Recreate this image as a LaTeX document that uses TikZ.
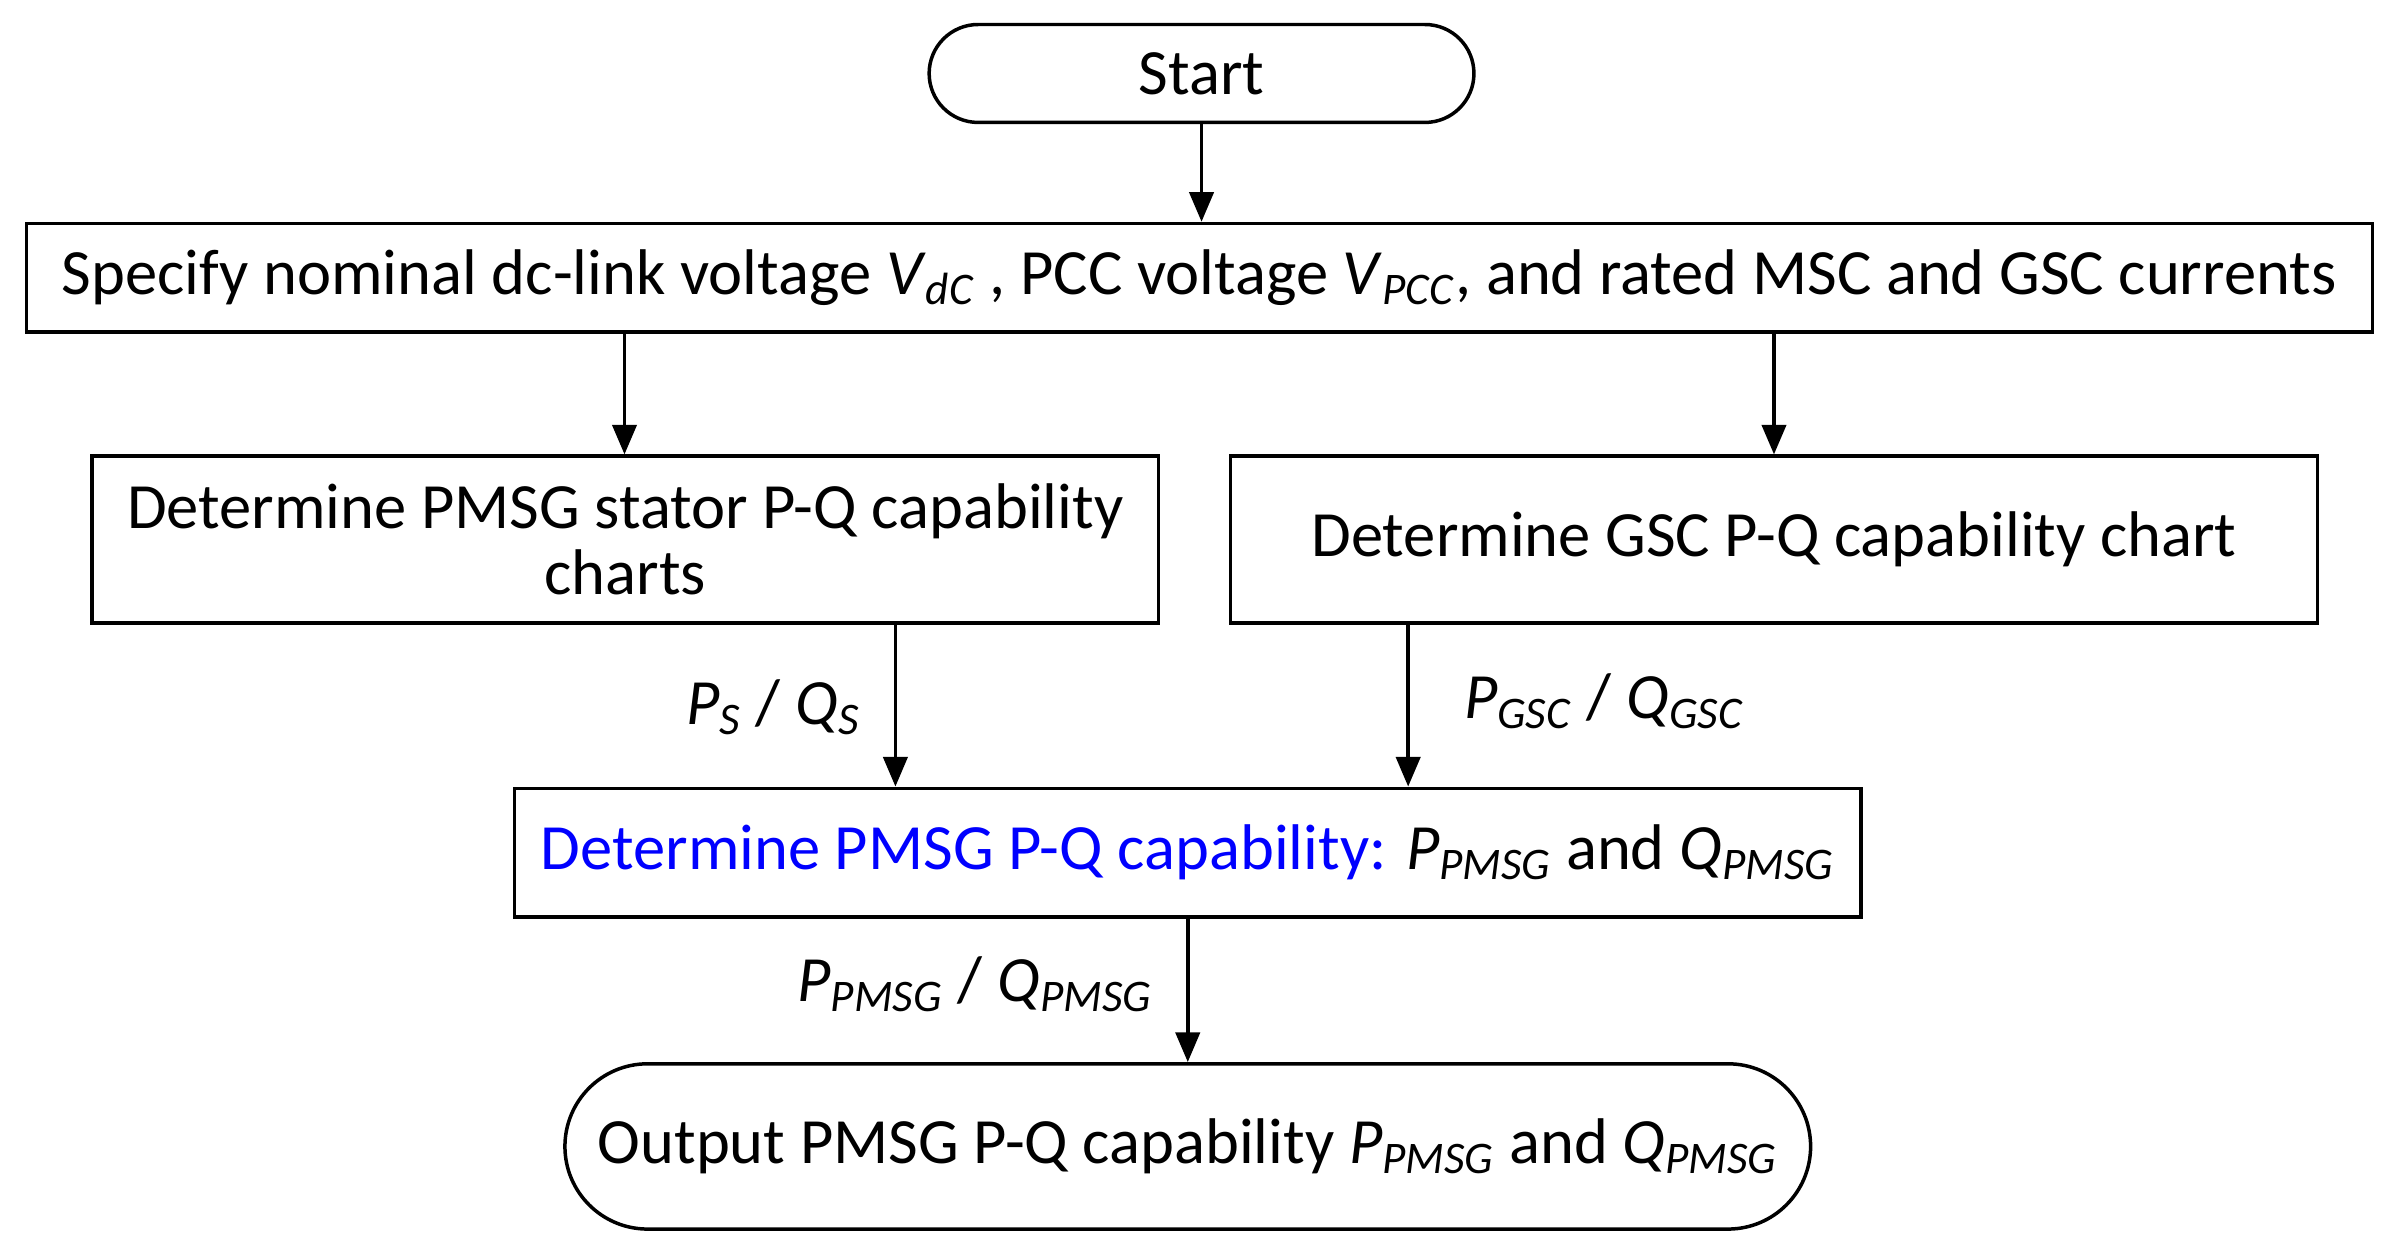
\documentclass[tikz,border=0pt]{standalone}
\usepackage{fontspec}
\setmainfont{Carlito}
\usetikzlibrary{arrows.meta}
\newcommand{\vsub}[2]{\textit{#1}\textsubscript{\textit{#2}}}
\begin{document}
\begin{tikzpicture}[x=0.02cm,y=-0.02cm,
  box/.style={draw,line width=1.3pt,minimum height=#1,inner sep=0pt,align=center,font=\fontsize{24}{24.5}\selectfont},
  arr/.style={-{Triangle[length=11pt,width=9pt]},line width=1.3pt},
  lab/.style={font=\fontsize{24}{24.5}\selectfont}]
\useasboundingbox (0,0) rectangle (1568,818.6);
\node[box=1.28cm,rounded corners=0.64cm,minimum width=7.12cm] (s) at (785,48) {Start};
\node[box=1.42cm,minimum width=30.66cm] (a) at (783.5,181.5) {Specify nominal dc-link voltage \vsub{V}{dC} , PCC voltage \vsub{V}{PCC}, and rated MSC and GSC currents};
\node[box=2.18cm,minimum width=13.94cm] (b) at (408.5,352.5) {Determine PMSG stator P-Q capability\\charts};
\node[box=2.18cm,minimum width=14.2cm] (c) at (1159,352.5) {Determine GSC P-Q capability chart};
\node[box=1.68cm,minimum width=17.6cm] (d) at (776,557) {\textcolor{blue}{Determine PMSG P-Q capability:} \vsub{P}{PMSG} and \vsub{Q}{PMSG}};
\node[box=2.16cm,rounded corners=1.08cm,minimum width=16.28cm] (e) at (776,749) {Output PMSG P-Q capability \vsub{P}{PMSG} and \vsub{Q}{PMSG}};
\draw[arr] (s.south -| 785,0) -- (a.north -| 785,0);
\draw[arr] (a.south -| 408,0) -- (b.north -| 408,0);
\draw[arr] (a.south -| 1159,0) -- (c.north -| 1159,0);
\draw[arr] (b.south -| 585,0) -- (d.north -| 585,0);
\draw[arr] (c.south -| 920,0) -- (d.north -| 920,0);
\draw[arr] (d.south -| 776,0) -- (e.north -| 776,0);
\node[lab] (l1) at (505,462) {\vsub{P}{S} / \vsub{Q}{S}};
\node[lab] (l2) at (1048,458) {\vsub{P}{GSC} / \vsub{Q}{GSC}};
\node[lab] (l3) at (637,643) {\vsub{P}{PMSG} / \vsub{Q}{PMSG}};
\end{tikzpicture}
\end{document}
